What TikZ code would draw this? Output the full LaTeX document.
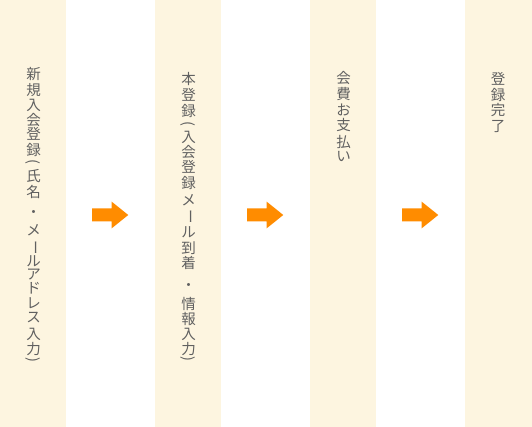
\documentclass[tikz,border=0pt]{standalone}
\usepackage{fontspec}
\newfontfamily\cjk{Noto Sans CJK JP}
\definecolor{cream}{HTML}{FDF5E0}
\definecolor{txtgray}{HTML}{606060}
\definecolor{arroworange}{HTML}{FF8C00}
\tikzset{
  col/.style={fill=cream, draw=none},
  vch/.style={anchor=center, inner sep=0pt, text=txtgray,
    font=\cjk\fontsize{14.5}{14.5}\selectfont},
  vrot/.style={vch, rotate=-90},
  flowarrow/.style={fill=arroworange, draw=none}
}
\begin{document}
\begin{tikzpicture}[x=1pt,y=-1pt]
\useasboundingbox (0,0) rectangle (532,427);
\fill[white] (0,0) rectangle (532,427);
% columns
\fill[col] (0,0) rectangle (66,427);
\fill[col] (155,0) rectangle (221,427);
\fill[col] (310,0) rectangle (376,427);
\fill[col] (465,0) rectangle (532,427);
% column 1 text
\foreach \c/\y [count=\i] in {新/74.5,規/89.7,入/105,会/120,登/134.3,録/149.7,
  氏/175.7,名/192.3,・/214,メ/230.7,ル/261.7,ア/275,ド/288.5,レ/303,ス/318,入/334,力/349}
  \node[vch] (a\i) at (33.5,\y) {\c};
\node[vrot] (ap1) at (33.5,161.5) {(};
\node[vrot] (al) at (33.5,247.3) {ー};
\node[vrot] (ap2) at (33.5,359.5) {)};
% column 2 text
\foreach \c/\y [count=\i] in {本/79,登/95,録/110.5,入/137.5,会/151.7,登/166.5,録/182.5,
  メ/200,ル/232.5,到/248,着/263,・/287.3,情/304,報/319,入/334,力/349}
  \node[vch] (b\i) at (188.5,\y) {\c};
\node[vrot] (bp1) at (188.5,124) {(};
\node[vrot] (bl) at (188.5,216.7) {ー};
\node[vrot] (bp2) at (188.5,358.5) {)};
% column 3 text
\foreach \c/\y [count=\i] in {会/78.3,費/94,お/110,支/125,払/141.5,い/156.5}
  \node[vch] (c\i) at (343.5,\y) {\c};
% column 4 text
\foreach \c/\y [count=\i] in {登/79,録/95,完/110.5,了/126.5}
  \node[vch] (d\i) at (498,\y) {\c};
% arrows
\foreach \dx in {0,155,310}{
  \fill[flowarrow] (92+\dx,208.5) -- (111.7+\dx,208.5) -- (111.7+\dx,201.7)
    -- (128.3+\dx,215) -- (111.7+\dx,228.3) -- (111.7+\dx,221.5) -- (92+\dx,221.5) -- cycle;
}
\end{tikzpicture}
\end{document}
